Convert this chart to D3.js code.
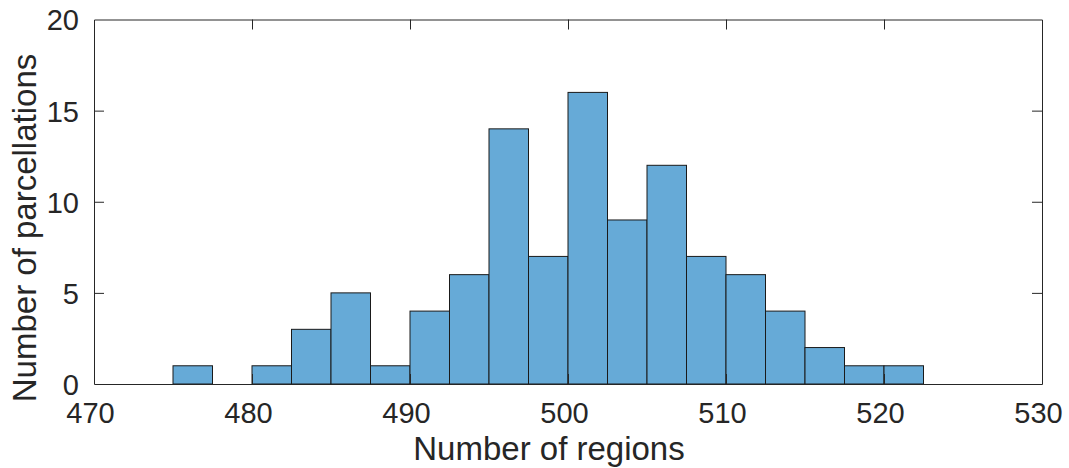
<!DOCTYPE html>
<html>
<head>
<meta charset="utf-8">
<script src="https://cdn.jsdelivr.net/npm/d3@7"></script>
<style>
  html, body { margin: 0; padding: 0; background: #fff; }
  text { font-family: "Liberation Sans", Arial, Helvetica, sans-serif; fill: #262626; }
</style>
</head>
<body>
<svg id="chart" width="1069" height="468"></svg>
<script>
// Histogram bins (left edges, width 2.5) and counts
const binEdges = [475, 477.5, 480, 482.5, 485, 487.5, 490, 492.5, 495, 497.5,
                  500, 502.5, 505, 507.5, 510, 512.5, 515, 517.5, 520, 522.5];
const binWidth = 2.5;
const counts = [1, 0, 1, 3, 5, 1, 4, 6, 14, 7,
                16, 9, 12, 7, 6, 4, 2, 1, 1, 0];
const xTicks = [470, 480, 490, 500, 510, 520, 530];
const yTicks = [0, 5, 10, 15, 20];
const xLabel = "Number of regions";
const yLabel = "Number of parcellations";

const svg = d3.select("#chart");
const plotLeft = 94, plotRight = 1042, plotTop = 19.5, plotBottom = 384;

const x = d3.scaleLinear().domain([470, 530]).range([plotLeft, plotRight]);
const y = d3.scaleLinear().domain([0, 20]).range([plotBottom, plotTop]);

const bins = binEdges.map((e, i) => ({ x0: e, x1: e + binWidth, n: counts[i] }));

// Bars
svg.append("g").selectAll("rect").data(bins).join("rect")
  .attr("x", d => x(d.x0))
  .attr("y", d => y(d.n))
  .attr("width", d => x(d.x1) - x(d.x0))
  .attr("height", d => y(0) - y(d.n))
  .attr("fill", "#66aad7")
  .attr("stroke", "#1a1a1a")
  .attr("stroke-width", 1);

// Axes box
const tickLen = 10;
const axisColor = "#262626";

const gx = svg.append("g").attr("transform", `translate(0,${plotBottom})`)
  .call(d3.axisBottom(x).tickValues(xTicks).tickSizeInner(-tickLen).tickSizeOuter(0).tickPadding(0));
const gxTop = svg.append("g").attr("transform", `translate(0,${plotTop})`)
  .call(d3.axisTop(x).tickValues(xTicks).tickSizeInner(-tickLen).tickSizeOuter(0).tickFormat(""));
const gy = svg.append("g").attr("transform", `translate(${plotLeft},0)`)
  .call(d3.axisLeft(y).tickValues(yTicks).tickSizeInner(-tickLen).tickSizeOuter(0).tickPadding(0));
const gyRight = svg.append("g").attr("transform", `translate(${plotRight},0)`)
  .call(d3.axisRight(y).tickValues(yTicks).tickSizeInner(-tickLen).tickSizeOuter(0).tickFormat(""));

[gx, gxTop, gy, gyRight].forEach(g => {
  g.select(".domain").attr("stroke", axisColor).attr("stroke-width", 1);
  g.selectAll(".tick line").attr("stroke", axisColor).attr("stroke-width", 1);
});
// no tick marks at the box corners
gx.selectAll(".tick line").filter(d => d === 470 || d === 530).remove();
gxTop.selectAll(".tick line").filter(d => d === 470 || d === 530).remove();
gy.selectAll(".tick line").filter(d => d === 0 || d === 20).remove();
gyRight.selectAll(".tick line").filter(d => d === 0 || d === 20).remove();

gx.selectAll(".tick text")
  .attr("y", 39).attr("dy", 0).attr("dx", -4)
  .attr("font-size", 29).attr("font-family", null).style("fill", "#262626");
gy.selectAll(".tick text")
  .attr("x", -15).attr("dy", "0.36em")
  .attr("font-size", 29).attr("font-family", null).style("fill", "#262626");

// Axis titles
svg.append("text")
  .attr("x", 549).attr("y", 460)
  .attr("text-anchor", "middle")
  .attr("font-size", 33)
  .text(xLabel);

svg.append("text")
  .attr("transform", "translate(36,228) rotate(-90)")
  .attr("text-anchor", "middle")
  .attr("font-size", 33)
  .text(yLabel);
</script>
</body>
</html>
